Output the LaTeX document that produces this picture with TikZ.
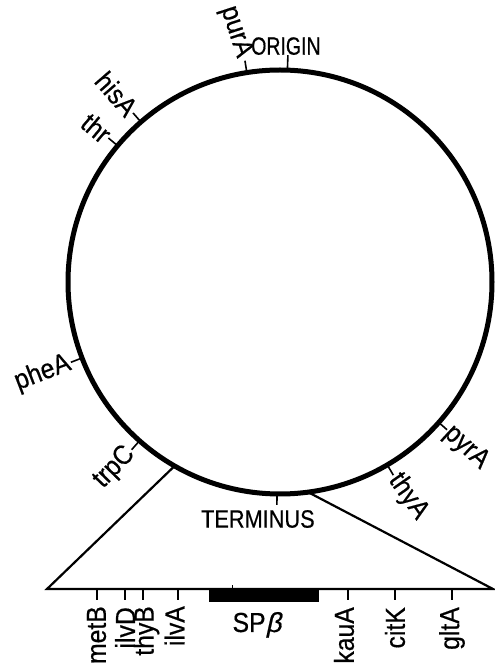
\documentclass[tikz,border=0pt]{standalone}
\usepackage{fontspec}
\setmainfont{Liberation Sans}[FakeStretch=0.9, FakeBold=0.5]
\newfontfamily\capfont{Liberation Sans}[FakeStretch=0.78, FakeBold=0.5]
\newfontfamily\capfontb{Liberation Sans}[FakeStretch=0.87, FakeBold=0.5]
\newfontfamily\greekslant{Liberation Sans}[FakeSlant=0.22, FakeBold=0.5]
\usetikzlibrary{calc}
\begin{document}
\begin{tikzpicture}[x=1pt,y=1pt,
  lbl/.style={inner sep=1pt, font=\fontsize{27.5}{32}\selectfont},
  caplbl/.style={inner sep=0pt, font=\fontsize{25}{30}\selectfont},
  blbl/.style={lbl, rotate=90, anchor=east, inner sep=0pt},
  genetick/.style={line width=1.6pt},
  ring/.style={line width=5pt},
  wedge/.style={line width=2.2pt, line join=miter}]
\useasboundingbox (0,0) rectangle (495,665);
\coordinate (C) at (280,383);
\draw[ring] (C) circle[radius=212];

% origin
\coordinate (oriA) at ($(C)+(88:212)$);
\coordinate (oriB) at ($(C)+(88:227)$);
\draw[genetick] (oriA) -- (oriB);
\node[caplbl, anchor=south, xshift=-2pt] (ori) at (oriB) {\capfont ORIGIN};

% purA
\coordinate (purA1) at ($(C)+(99:212)$);
\coordinate (purA2) at ($(C)+(99:224)$);
\draw[genetick] (purA1) -- (purA2);
\node[lbl, anchor=east, rotate=-72, xshift=-3pt] (purA) at (purA2) {purA};

% hisA
\coordinate (hisA1) at ($(C)+(131:212)$);
\coordinate (hisA2) at ($(C)+(131:224)$);
\draw[genetick] (hisA1) -- (hisA2);
\node[lbl, anchor=east, rotate=-49] (hisA) at (hisA2) {hisA};

% thr
\coordinate (thr1) at ($(C)+(140:212)$);
\coordinate (thr2) at ($(C)+(140:224)$);
\draw[genetick] (thr1) -- (thr2);
\node[lbl, anchor=east, rotate=-40] (thr) at (thr2) {thr};

% pheA
\coordinate (pheA1) at ($(C)+(201:212)$);
\coordinate (pheA2) at ($(C)+(201:224)$);
\draw[genetick] (pheA1) -- (pheA2);
\node[lbl, anchor=east, rotate=21] (pheA) at (pheA2) {pheA};

% trpC
\coordinate (trpC1) at ($(C)+(228.5:212)$);
\coordinate (trpC2) at ($(C)+(228.5:224)$);
\draw[genetick] (trpC1) -- (trpC2);
\node[lbl, anchor=east, rotate=46] (trpC) at (trpC2) {trpC};

% terminus
\coordinate (terA) at ($(C)+(269.2:212)$);
\coordinate (terB) at ($(C)+(269.2:223)$);
\draw[genetick] (terA) -- (terB);
\node[caplbl, anchor=north, xshift=-19pt, yshift=-5pt] (ter) at (terB) {\capfontb TERMINUS};

% pyrA
\coordinate (pyrA1) at ($(C)+(-41.5:212)$);
\coordinate (pyrA2) at ($(C)+(-41.5:223)$);
\draw[genetick] (pyrA1) -- (pyrA2);
\node[lbl, anchor=west, rotate=-43, inner sep=0.5pt] (pyrA) at (pyrA2) {pyrA};

% thyA
\coordinate (thyA1) at ($(C)+(-59.6:212)$);
\coordinate (thyA2) at ($(C)+(-59.6:224)$);
\draw[genetick] (thyA1) -- (thyA2);
\node[lbl, anchor=west, rotate=-55] (thyA) at (thyA2) {thyA};

% expanded wedge
\coordinate (TL) at ($(C)+(240.2:212)$);
\coordinate (TR) at ($(C)+(-82.4:212)$);
\coordinate (BL) at (47,76);
\coordinate (BR) at (493,76);
\draw[wedge] (TL) -- (BL) -- (BR) -- (TR);

% small mark above baseline
\coordinate (mk1) at (232,76);
\coordinate (mk2) at (232,80);
\draw[line width=1pt] (mk1) -- (mk2);

% SPbeta bar
\node[fill=black, minimum width=110pt, minimum height=14pt, inner sep=0pt, anchor=north west] (spbar) at (209,77) {};
\node[lbl, anchor=base, inner sep=0pt] (splbl) at (257,33) {SP{\greekslant β}};

% bottom ticks
\foreach \tx/\nm in {97/metB, 125/ilvD, 143/thyB, 178/ilvA, 348/kauA, 395/citK, 452/gltA}{
  \coordinate (\nm t1) at (\tx,76);
  \coordinate (\nm t2) at (\tx,65);
  \draw[genetick] (\nm t1) -- (\nm t2);
}
\node[blbl] (metB) at (96.5,59) {metB};
\node[blbl] (ilvD) at (125,58) {ilvD};
\node[blbl] (thyB) at (146.5,59) {thyB};
\node[blbl] (ilvA) at (174.5,59) {ilvA};
\node[blbl] (kauA) at (344,58) {kauA};
\node[blbl] (citK) at (395,58) {citK};
\node[blbl] (gltA) at (452,58) {gltA};
\end{tikzpicture}
\end{document}
